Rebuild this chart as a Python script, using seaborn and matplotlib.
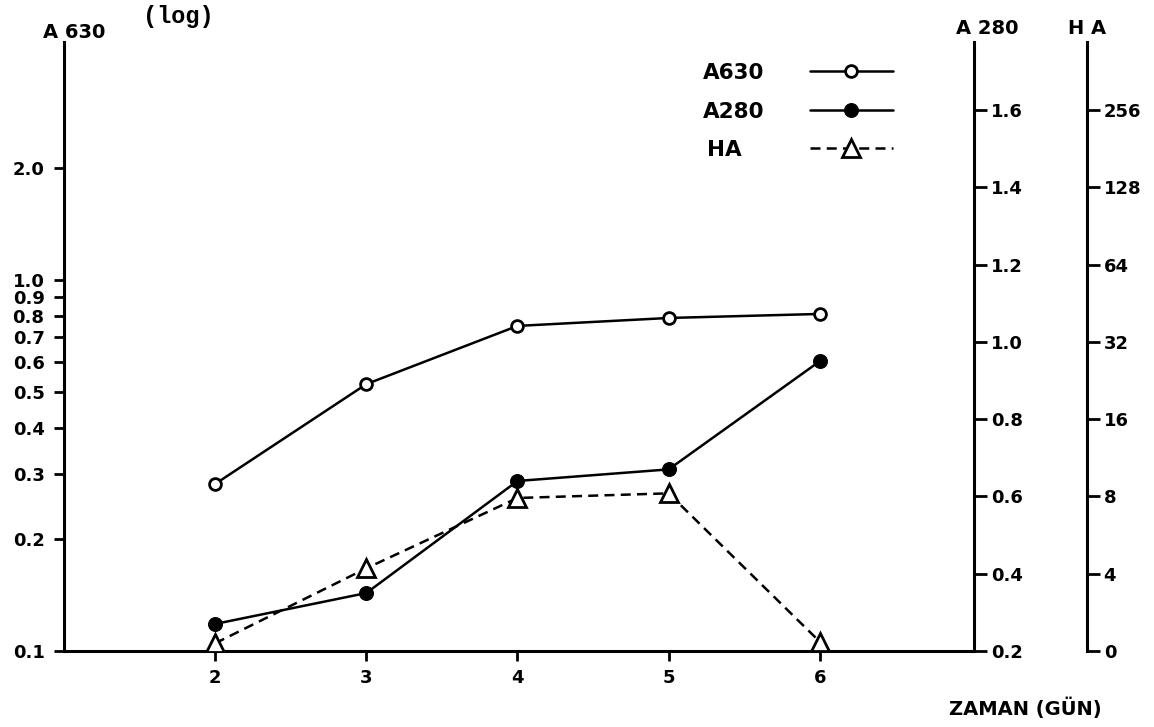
import matplotlib
matplotlib.use("Agg")
import matplotlib.pyplot as plt
import seaborn as sns
from matplotlib.ticker import FixedLocator, NullLocator, FixedFormatter

# ---------------- data ----------------
days = [2, 3, 4, 5, 6]
a630 = [0.282, 0.524, 0.752, 0.790, 0.810]          # left axis, log scale
a280 = [0.27, 0.35, 0.64, 0.67, 0.95]               # first right axis
ha_level = [0.10, 1.07, 1.98, 2.04, 0.12]           # position on HA titre scale (step index)

x_ticks = [2, 3, 4, 5, 6]
a630_ticks = [0.1, 0.2, 0.3, 0.4, 0.5, 0.6, 0.7, 0.8, 0.9, 1.0, 2.0]
a630_labels = ["0.1", "0.2", "0.3", "0.4", "0.5", "0.6", "0.7", "0.8", "0.9", "1.0", "2.0"]
a280_ticks = [0.2, 0.4, 0.6, 0.8, 1.0, 1.2, 1.4, 1.6]
a280_labels = ["0.2", "0.4", "0.6", "0.8", "1.0", "1.2", "1.4", "1.6"]
ha_ticks = [0, 1, 2, 3, 4, 5, 6, 7]
ha_labels = ["0", "4", "8", "16", "32", "64", "128", "256"]
legend_labels = ["A630", "A280", "HA"]

# ---------------- style ----------------
sns.set_style("ticks")
plt.rcParams["font.family"] = ["DejaVu Sans"]
plt.rcParams["font.weight"] = "bold"
plt.rcParams["axes.linewidth"] = 2.2
for k in ["text.color", "axes.edgecolor", "axes.labelcolor", "xtick.color", "ytick.color",
          "xtick.labelcolor", "ytick.labelcolor"]:
    plt.rcParams[k] = "black"

W, H = 1154, 727
fig = plt.figure(figsize=(W / 100, H / 100), dpi=100)
L, R, B, T = 64, 974, 651, 42
ax = fig.add_axes([L / W, 1 - B / H, (R - L) / W, (B - T) / H])

LW = 1.8
TICK_FS = 13

# A630 (open circles, solid line) on log axis
sns.lineplot(x=days, y=a630, ax=ax, color="black", lw=LW, marker="o",
             markersize=8.5, markerfacecolor="white", markeredgecolor="black",
             markeredgewidth=2.0, label=legend_labels[0])
ax.set_yscale("log")
ax.set_xlim(1.0, 7.02)
ax.set_ylim(0.1, 4.38)
ax.yaxis.set_major_locator(FixedLocator(a630_ticks))
ax.yaxis.set_major_formatter(FixedFormatter(a630_labels))
ax.yaxis.set_minor_locator(NullLocator())
ax.set_xticks(x_ticks)
ax.set_xticklabels([str(d) for d in x_ticks])
ax.tick_params(axis="y", which="major", direction="out", length=7, width=2,
               pad=7, labelsize=TICK_FS)
ax.tick_params(axis="x", which="major", direction="out", length=7, width=2,
               pad=6, labelsize=TICK_FS)
for s in ["top", "right"]:
    ax.spines[s].set_visible(False)
ax.set_xlabel("")
ax.set_ylabel("")

# A280 (filled circles, solid line) on first right axis
ax2 = ax.twinx()
sns.lineplot(x=days, y=a280, ax=ax2, color="black", lw=LW, marker="o",
             markersize=10, markerfacecolor="black", markeredgecolor="black",
             label=legend_labels[1])
ax2.set_ylim(0.2, 1.776)
ax2.yaxis.set_major_locator(FixedLocator(a280_ticks))
ax2.yaxis.set_major_formatter(FixedFormatter(a280_labels))
ax2.tick_params(axis="y", direction="out", length=9, width=2, pad=3,
                labelsize=TICK_FS)
for s in ["top", "left", "bottom"]:
    ax2.spines[s].set_visible(False)
ax2.set_ylabel("")

# HA (open triangles, dashed line) on second right axis
ax3 = ax.twinx()
sns.lineplot(x=days, y=ha_level, ax=ax3, color="black", lw=LW,
             linestyle=(0, (4, 2.5)), marker="^", markersize=13,
             markerfacecolor="white", markeredgecolor="black",
             markeredgewidth=2.0, label=legend_labels[2])
ax3.set_ylim(0, 7.88)
ax3.spines["right"].set_position(("axes", (1087 - L) / (R - L)))
ax3.yaxis.set_major_locator(FixedLocator(ha_ticks))
ax3.yaxis.set_major_formatter(FixedFormatter(ha_labels))
ax3.tick_params(axis="y", direction="out", length=9, width=2, pad=3,
                labelsize=TICK_FS)
for s in ["top", "left", "bottom"]:
    ax3.spines[s].set_visible(False)
ax3.set_ylabel("")

for a in (ax, ax2, ax3):
    lg = a.get_legend()
    if lg is not None:
        lg.remove()

handles = []
labels = []
for a in (ax, ax2, ax3):
    h, l = a.get_legend_handles_labels()
    handles += h
    labels += l
# pad the short label so the texts line up on the left like the original
labels = [lab + "\u2007 " if lab == "HA" else lab for lab in labels]

fig.legend(handles, labels, loc="upper left",
           bbox_to_anchor=(703 / W, 1 - 63 / H), bbox_transform=fig.transFigure,
           frameon=False, markerfirst=False, borderpad=0, borderaxespad=0,
           handlelength=3.86, handletextpad=2.1, labelspacing=0.86,
           prop={"size": 15.5, "weight": "bold"})

# axis titles
fig.text(74 / W, 1 - 32 / H, "A 630", ha="center", va="center", fontsize=14,
         fontweight="bold")
fig.text(178 / W, 1 - 16 / H, "(log)", ha="center", va="center", fontsize=17,
         fontweight="bold", family=["Liberation Mono", "DejaVu Sans Mono"])
fig.text(987 / W, 1 - 28 / H, "A 280", ha="center", va="center", fontsize=14,
         fontweight="bold")
fig.text(1087 / W, 1 - 28 / H, "H A", ha="center", va="center", fontsize=14,
         fontweight="bold")
fig.text(1025 / W, 1 - 708 / H, "ZAMAN (GÜN)", ha="center", va="center",
         fontsize=14, fontweight="bold")

fig.savefig("out.png", dpi=100)
